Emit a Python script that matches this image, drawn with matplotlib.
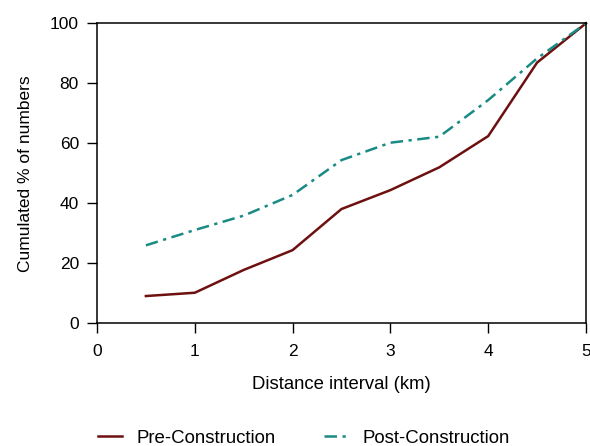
import numpy as np
import matplotlib.pyplot as plt

plt.rcParams['font.family'] = ['Liberation Sans', 'DejaVu Sans']

distance = [0.5, 1, 1.5, 2, 2.5, 3, 3.5, 4, 4.5, 5]
pre_construction = [9.1, 10.2, 17.8, 24.4, 38.1, 44.4, 52.0, 62.4, 86.9, 100]
post_construction = [26.0, 31.1, 35.9, 42.8, 54.4, 60.2, 62.2, 74.4, 88.3, 100]

fig = plt.figure(figsize=(5.9, 4.46), dpi=100)
ax = fig.add_axes([0.1644, 0.275, 0.8288, 0.6728])

ax.plot(distance, pre_construction, color='#6e1010', lw=1.8,
        label='Pre-Construction', clip_on=False)
ax.plot(distance, post_construction, color='#198a84', lw=1.8,
        ls=(0, (5, 2.2, 1.3, 2.2)), label='Post-Construction', clip_on=False)

ax.set_xlim(0, 5)
ax.set_ylim(0, 100)
ax.set_xticks([0, 1, 2, 3, 4, 5])
ax.set_yticks([0, 20, 40, 60, 80, 100])
ax.tick_params(direction='out', length=7, width=1, labelsize=12.5)
ax.tick_params(axis='x', pad=8)
ax.tick_params(axis='y', pad=6)
for s in ax.spines.values():
    s.set_linewidth(1.1)

ax.set_xlabel('Distance interval (km)', fontsize=13.3, labelpad=12)
ax.set_ylabel('Cumulated % of numbers', fontsize=12.5, labelpad=12)

fig.legend(loc='lower left', bbox_to_anchor=(0.138, -0.039), ncol=2,
           frameon=False, fontsize=13.4, handlelength=1.3,
           columnspacing=2.6, handletextpad=0.75)

fig.savefig('out.png', dpi=100)
